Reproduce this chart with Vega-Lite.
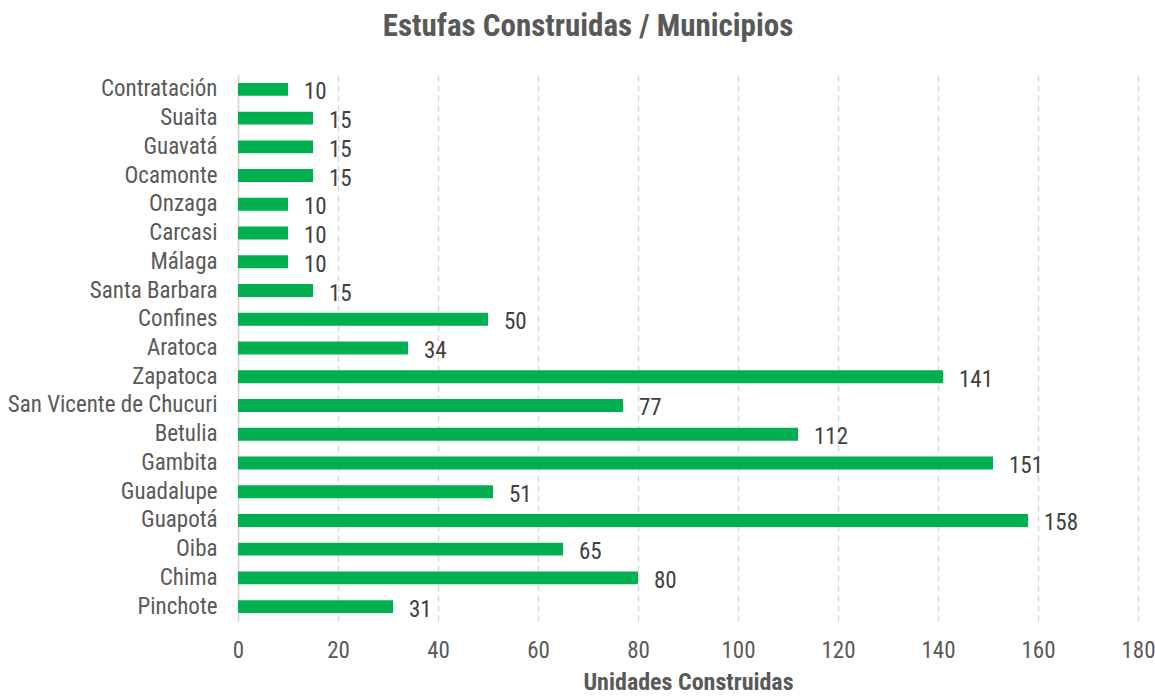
{
  "$schema": "https://vega.github.io/schema/vega-lite/v6.json",
  "width": 900,
  "height": 546,
  "autosize": {"type": "none"},
  "padding": {"left": 238, "top": 75, "right": 17, "bottom": 77},
  "background": "white",
  "config": {
    "font": "Liberation Sans Narrow, Arial Narrow, Roboto Condensed, Liberation Sans, sans-serif",
    "view": {"stroke": null}
  },
  "title": {
    "text": "Estufas Construidas / Municipios",
    "fontSize": 31,
    "fontWeight": "bold",
    "color": "#595959",
    "anchor": "middle",
    "dx": -100,
    "baseline": "alphabetic",
    "offset": 8
  },
  "data": {
    "values": [
      {"municipio": "Contratación", "estufas": 10},
      {"municipio": "Suaita", "estufas": 15},
      {"municipio": "Guavatá", "estufas": 15},
      {"municipio": "Ocamonte", "estufas": 15},
      {"municipio": "Onzaga", "estufas": 10},
      {"municipio": "Carcasi", "estufas": 10},
      {"municipio": "Málaga", "estufas": 10},
      {"municipio": "Santa Barbara", "estufas": 15},
      {"municipio": "Confines", "estufas": 50},
      {"municipio": "Aratoca", "estufas": 34},
      {"municipio": "Zapatoca", "estufas": 141},
      {"municipio": "San Vicente de Chucuri", "estufas": 77},
      {"municipio": "Betulia", "estufas": 112},
      {"municipio": "Gambita", "estufas": 151},
      {"municipio": "Guadalupe", "estufas": 51},
      {"municipio": "Guapotá", "estufas": 158},
      {"municipio": "Oiba", "estufas": 65},
      {"municipio": "Chima", "estufas": 80},
      {"municipio": "Pinchote", "estufas": 31}
    ]
  },
  "encoding": {
    "y": {
      "field": "municipio",
      "type": "nominal",
      "sort": null,
      "scale": {"paddingInner": 0.55, "paddingOuter": 0.275},
      "axis": {
        "title": null,
        "labelFontSize": 23,
        "labelColor": "#595959",
        "labelPadding": 21,
        "ticks": false,
        "domain": true,
        "domainColor": "#d9d9d9",
        "domainWidth": 1.5,
        "grid": false,
        "labelLimit": 400
      }
    },
    "x": {
      "field": "estufas",
      "type": "quantitative",
      "scale": {"domain": [0, 180], "nice": false},
      "axis": {
        "values": [0, 20, 40, 60, 80, 100, 120, 140, 160, 180],
        "title": "Unidades Construidas",
        "titleFontSize": 24,
        "titleFontWeight": "bold",
        "titleColor": "#595959",
        "titlePadding": 8,
        "labelFontSize": 23,
        "labelColor": "#595959",
        "labelPadding": 18,
        "labelFlush": false,
        "ticks": false,
        "domain": false,
        "grid": true,
        "gridColor": "#d9d9d9",
        "gridDash": [6, 4],
        "gridWidth": 1.5
      }
    }
  },
  "layer": [
    {"mark": {"type": "bar", "color": "#00B050"}},
    {
      "mark": {"type": "text", "align": "left", "dx": 16, "dy": 3, "fontSize": 23, "color": "#404040"},
      "encoding": {"text": {"field": "estufas", "type": "quantitative"}}
    }
  ]
}
